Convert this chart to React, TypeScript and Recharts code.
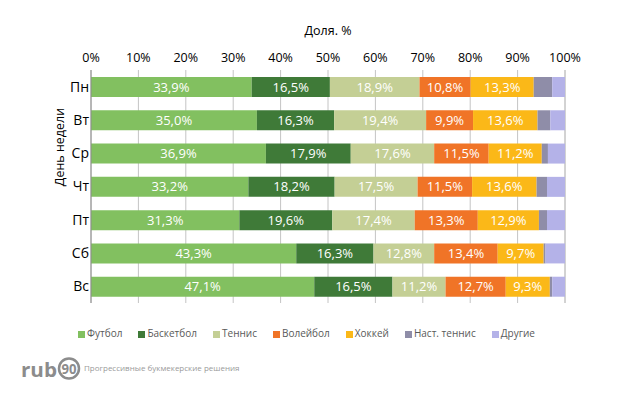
import { BarChart, Bar, XAxis, YAxis, CartesianGrid, Legend, LabelList } from 'recharts'

const days = ['Пн', 'Вт', 'Ср', 'Чт', 'Пт', 'Сб', 'Вс']
const football = [33.9, 35.0, 36.9, 33.2, 31.3, 43.3, 47.1]
const basketball = [16.5, 16.3, 17.9, 18.2, 19.6, 16.3, 16.5]
const tennis = [18.9, 19.4, 17.6, 17.5, 17.4, 12.8, 11.2]
const volleyball = [10.8, 9.9, 11.5, 11.5, 13.3, 13.4, 12.7]
const hockey = [13.3, 13.6, 11.2, 13.6, 12.9, 9.7, 9.3]
const tableTennis = [3.9, 2.7, 1.3, 2.2, 1.7, 0.4, 0.5]
const other = [2.7, 3.1, 3.6, 3.8, 3.8, 4.1, 2.7]
const xTicks = [0, 10, 20, 30, 40, 50, 60, 70, 80, 90, 100]

const series = [
  { key: 'Футбол', values: football, color: '#82c060', label: true },
  { key: 'Баскетбол', values: basketball, color: '#3f7a38', label: true },
  { key: 'Теннис', values: tennis, color: '#c4cf95', label: true },
  { key: 'Волейбол', values: volleyball, color: '#f07427', label: true },
  { key: 'Хоккей', values: hockey, color: '#fbb818', label: true },
  { key: 'Наст. теннис', values: tableTennis, color: '#8f8da8', label: false },
  { key: 'Другие', values: other, color: '#b4b2e8', label: false },
]

const data = days.map((day, i) => {
  const row: Record<string, number | string> = { day }
  series.forEach((s) => {
    row[s.key] = s.values[i]
  })
  return row
})

const font = '"Open Sans", sans-serif'

const fmt = (v: number) => `${v.toFixed(1).replace('.', ',')}%`

function LegendContent() {
  return (
    <div style={{ paddingTop: 23, paddingLeft: 78, display: 'flex', fontFamily: font, fontSize: 10, color: '#595959', height: 14, lineHeight: '14px', whiteSpace: 'nowrap' }}>
      {series.map((s) => (
        <div key={s.key} style={{ display: 'flex', alignItems: 'center', marginRight: 16 }}>
          <span style={{ width: 7, height: 7, background: s.color, marginRight: 2, marginTop: 2 }} />
          <span>{s.key}</span>
        </div>
      ))}
    </div>
  )
}

// y-axis title sits above the middle of the axis in the original
const YTitle = () => (
  <text transform="translate(59,147) rotate(-90)" textAnchor="middle" dominantBaseline="central" fill="#000" fontSize={12.5} fontFamily={font}>
    День недели
  </text>
)

export default function App() {
  return (
    <div style={{ position: 'absolute', left: 0, top: 0, width: 618, height: 400, background: '#fff' }}>
      <BarChart
        width={618}
        height={400}
        data={data}
        layout="vertical"
        margin={{ top: 0, right: 53, bottom: 60, left: 0 }}
        barSize={20}
      >
        <CartesianGrid horizontal={false} stroke="#c4c4c4" />
        <XAxis
          type="number"
          orientation="top"
          domain={[0, 100]}
          ticks={xTicks}
          tickFormatter={(v) => `${v}%`}
          axisLine={false}
          tickLine={false}
          height={70}
          tick={{ fill: '#000', fontSize: 12.5, fontFamily: font }}
          label={{ value: 'Доля. %', position: 'insideTop', offset: 26, fill: '#000', fontSize: 12.5, fontFamily: font }}
        />
        <XAxis
          xAxisId="bottom"
          type="number"
          orientation="bottom"
          domain={[0, 100]}
          tick={false}
          tickLine={false}
          height={0}
          axisLine={{ stroke: '#a6a6a6' }}
        />
        <YAxis
          type="category"
          dataKey="day"
          width={91}
          axisLine={{ stroke: '#8c8c8c' }}
          tickLine={false}
          tickSize={0}
          tickMargin={2}
          tick={{ fill: '#000', fontSize: 14, fontFamily: font }}
          label={{ value: 'День недели', content: <YTitle /> }}
        />
        <Legend verticalAlign="bottom" content={<LegendContent />} />
        {series.map((s) => (
          <Bar key={s.key} dataKey={s.key} stackId="a" fill={s.color} isAnimationActive={false}>
            {s.label && (
              <LabelList
                dataKey={s.key}
                position="center"
                formatter={(v: number) => fmt(v)}
                fill="#fff"
                style={{ fontSize: 13, fontFamily: font }}
              />
            )}
          </Bar>
        ))}
      </BarChart>
      <svg width={280} height={35} style={{ position: 'absolute', left: 0, top: 355 }}>
        <text x={21} y={22} fill="#8c8c8c" fontSize={20} fontWeight="bold" fontFamily={font} textLength={36} lengthAdjust="spacingAndGlyphs">rub</text>
        <circle cx={69} cy={13.5} r={10} fill="none" stroke="#8c8c8c" strokeWidth={2.5} />
        <text x={69} y={19} fill="#8c8c8c" fontSize={15} fontWeight="bold" textAnchor="middle" fontFamily={font} textLength={15} lengthAdjust="spacingAndGlyphs">90</text>
        <text x={84} y={16} fill="#9a9a9a" fontSize={8} fontFamily={font}>Прогрессивные букмекерские решения</text>
      </svg>
    </div>
  )
}
